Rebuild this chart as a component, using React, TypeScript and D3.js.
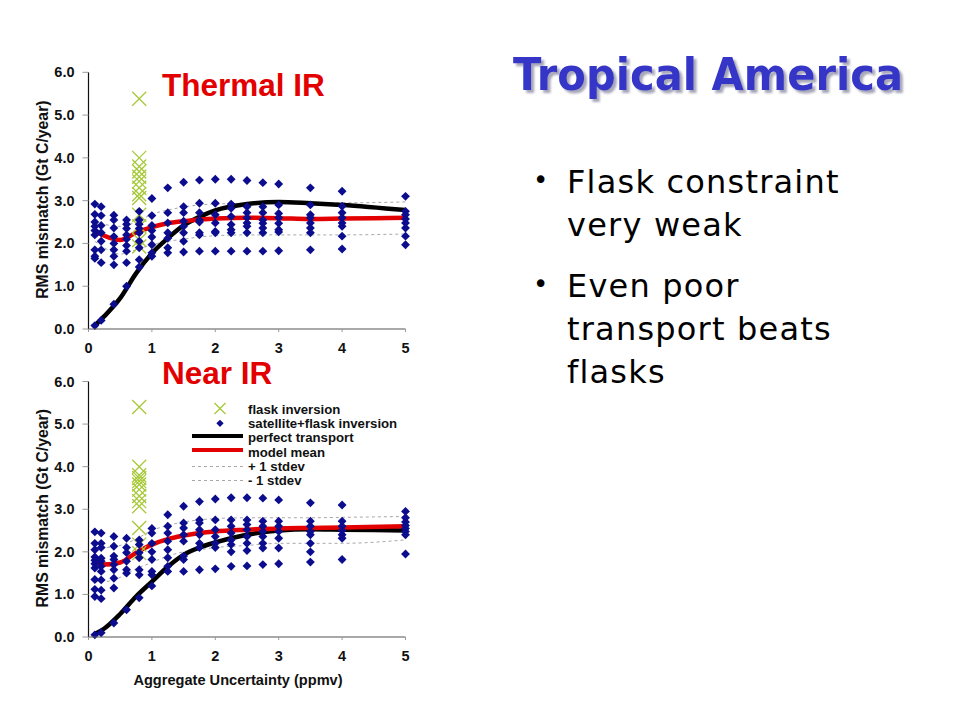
import * as d3 from 'd3'

// x positions (ppmv) of the scatter columns
const uncertainty = [0.1, 0.2, 0.4, 0.6, 0.8, 1.0, 1.25, 1.5, 1.75, 2.0, 2.25, 2.5, 2.75, 3.0, 3.5, 4.0, 5.0]
// x positions of the fitted curves
const curveX = [0.1, 0.25, 0.5, 0.75, 1.0, 1.25, 1.5, 1.75, 2.0, 2.5, 3.0, 3.5, 4.0, 5.0]
const flaskX = 0.8

const xTicks = [0, 1, 2, 3, 4, 5]
const yTicks = [0, 1, 2, 3, 4, 5, 6]

// Thermal IR
const thermalDots = [
  [2.92, 2.68, 2.5, 2.4, 2.3, 2.2, 1.85, 1.7, 1.65, 0.08],
  [2.86, 2.65, 2.42, 2.25, 2.05, 1.85, 1.55, 0.2],
  [2.66, 2.55, 2.36, 2.16, 2.0, 1.85, 1.7, 1.5, 0.58],
  [2.55, 2.45, 2.35, 2.2, 2.1, 1.95, 1.82, 1.55, 1.0],
  [2.75, 2.55, 2.45, 2.35, 2.25, 2.05, 1.9, 1.62, 1.45],
  [3.05, 2.65, 2.42, 2.3, 2.15, 1.97, 1.78, 1.7],
  [3.3, 2.72, 2.48, 2.25, 2.12, 1.9, 1.78],
  [3.43, 2.86, 2.72, 2.52, 2.4, 2.25, 2.05, 1.8],
  [3.48, 2.94, 2.72, 2.55, 2.5, 2.25, 2.2, 1.82],
  [3.5, 2.94, 2.67, 2.48, 2.28, 2.25, 1.82],
  [3.5, 2.92, 2.82, 2.63, 2.44, 2.32, 2.25, 1.82],
  [3.47, 2.86, 2.72, 2.6, 2.48, 2.4, 2.25, 1.82],
  [3.42, 2.86, 2.72, 2.55, 2.47, 2.36, 2.25, 1.82],
  [3.39, 2.9, 2.7, 2.6, 2.47, 2.32, 2.27, 1.83],
  [3.3, 2.9, 2.67, 2.6, 2.48, 2.36, 2.25, 1.85],
  [3.22, 2.87, 2.72, 2.6, 2.48, 2.4, 2.17, 1.87],
  [3.1, 2.75, 2.67, 2.57, 2.48, 2.36, 2.17, 1.97]
]
const thermalFlask = [5.38, 4.0, 3.8, 3.68, 3.56, 3.45, 3.3, 3.15, 3.06, 2.67, 2.4, 2.08, 1.93]
const thermalPerfect = [0.08, 0.3, 0.72, 1.3, 1.77, 2.12, 2.42, 2.62, 2.77, 2.92, 2.97, 2.94, 2.9, 2.78]
const thermalMean = [2.3, 2.18, 2.08, 2.25, 2.38, 2.47, 2.52, 2.56, 2.58, 2.6, 2.59, 2.57, 2.58, 2.6]
const thermalPlus = [2.55, 2.45, 2.4, 2.5, 2.68, 2.78, 2.85, 2.9, 2.92, 2.94, 2.95, 2.95, 2.95, 2.97]
const thermalMinus = [2.05, 1.9, 1.75, 1.85, 1.97, 2.05, 2.1, 2.15, 2.18, 2.2, 2.2, 2.2, 2.2, 2.22]

// Near IR
const nearDots = [
  [2.47, 2.2, 2.05, 1.88, 1.8, 1.72, 1.62, 1.35, 1.12, 0.95, 0.05],
  [2.44, 2.2, 2.1, 1.85, 1.78, 1.66, 1.54, 1.34, 1.1, 0.9, 0.1],
  [2.36, 2.13, 1.9, 1.82, 1.7, 1.58, 1.38, 1.15, 0.33],
  [2.32, 2.1, 1.98, 1.78, 1.58, 1.5, 0.64],
  [2.28, 2.17, 1.98, 1.86, 1.58, 1.46, 0.92],
  [2.55, 2.44, 2.2, 2.0, 1.82, 1.54, 1.46, 1.2],
  [2.87, 2.6, 2.44, 2.25, 2.05, 1.86, 1.66, 1.54],
  [3.07, 2.68, 2.56, 2.4, 2.25, 1.9, 1.82, 1.54],
  [3.18, 2.75, 2.68, 2.52, 2.4, 2.2, 2.1, 1.58],
  [3.24, 2.75, 2.52, 2.36, 2.2, 2.1, 1.6],
  [3.27, 2.75, 2.6, 2.44, 2.28, 2.17, 2.0, 1.66],
  [3.27, 2.75, 2.64, 2.52, 2.36, 2.2, 2.03, 1.67],
  [3.26, 2.72, 2.6, 2.48, 2.36, 2.2, 2.09, 1.7],
  [3.22, 2.72, 2.6, 2.48, 2.32, 2.09, 1.72],
  [3.15, 2.72, 2.6, 2.48, 2.4, 2.2, 2.0, 1.76],
  [3.1, 2.72, 2.6, 2.5, 2.4, 2.32, 1.82],
  [2.95, 2.8, 2.7, 2.62, 2.55, 2.48, 2.4, 1.95]
]
const nearFlask = [5.4, 4.0, 3.8, 3.73, 3.66, 3.58, 3.46, 3.31, 3.19, 3.07, 2.56, 2.17, 1.97]
const nearPerfect = [0.07, 0.2, 0.54, 0.95, 1.3, 1.65, 1.93, 2.1, 2.22, 2.4, 2.5, 2.53, 2.52, 2.5]
const nearMean = [1.75, 1.7, 1.75, 1.98, 2.17, 2.3, 2.38, 2.44, 2.48, 2.52, 2.55, 2.56, 2.57, 2.6]
const nearPlus = [2.1, 2.1, 2.15, 2.3, 2.5, 2.62, 2.7, 2.75, 2.78, 2.8, 2.8, 2.8, 2.81, 2.83]
const nearMinus = [1.3, 1.3, 1.4, 1.6, 1.75, 1.9, 2.0, 2.05, 2.1, 2.15, 2.2, 2.2, 2.2, 2.28]

const legendItems = ['flask inversion', 'satellite+flask inversion', 'perfect transport', 'model mean', '+ 1 stdev', '- 1 stdev']
const bullets = [
  ['Flask constraint', 'very weak'],
  ['Even poor', 'transport beats', 'flasks']
]

const FONT = 'Arial, "Liberation Sans", sans-serif'
const NAVY = '#0c0c8e'
const LIME = '#a6c837'
const RED = '#e30000'

const diamondType = (d3 as any).symbolDiamond2 ?? d3.symbolDiamond
const diamond = d3.symbol(diamondType, 50)()!
const cross = (r: number) => `M${-r},${-r}L${r},${r}M${-r},${r}L${r},${-r}`

interface PanelProps {
  top: number
  bottom: number
  title: string
  titleY: number
  dots: number[][]
  flask: number[]
  perfect: number[]
  mean: number[]
  plus: number[]
  minus: number[]
  legend?: boolean
  xLabel?: boolean
}

function Panel({ top, bottom, title, titleY, dots, flask, perfect, mean, plus, minus, legend, xLabel }: PanelProps) {
  const x = d3.scaleLinear().domain([0, 5]).range([88.5, 405.5])
  const y = d3.scaleLinear().domain([0, 6]).range([bottom, top])
  const line = d3.line<number>()
    .x((_, i) => x(curveX[i]))
    .y(d => y(d))
    .curve(d3.curveMonotoneX)

  return (
    <g>
      {/* stdev bands */}
      <path d={line(plus)!} fill="none" stroke="#a8a8a8" strokeWidth={1} strokeDasharray="3,3" />
      <path d={line(minus)!} fill="none" stroke="#a8a8a8" strokeWidth={1} strokeDasharray="3,3" />

      <path d={line(perfect)!} fill="none" stroke="#000" strokeWidth={4.5} />
      <path d={line(mean)!} fill="none" stroke={RED} strokeWidth={4.5} />

      {flask.map((v, i) => (
        <path key={'f' + i} d={cross(7)} transform={`translate(${x(flaskX)},${y(v)})`} stroke={LIME} strokeWidth={1.3} fill="none" />
      ))}

      {dots.map((col, ci) =>
        col.map((v, i) => (
          <path key={`d${ci}-${i}`} d={diamond} transform={`translate(${x(uncertainty[ci])},${y(v)})`} fill={NAVY} />
        ))
      )}

      {/* axes */}
      <line x1={x(0)} x2={x(0)} y1={y(6)} y2={y(0)} stroke="#111" strokeWidth={1.2} />
      <line x1={x(0)} x2={x(5)} y1={y(0)} y2={y(0)} stroke="#555" strokeWidth={1.2} />
      {yTicks.map(t => (
        <g key={'y' + t}>
          <line x1={x(0) - 6} x2={x(0)} y1={y(t)} y2={y(t)} stroke="#999" strokeWidth={1} />
          <text x={x(0) - 14} y={y(t) + 5} textAnchor="end" fontFamily={FONT} fontWeight="bold" fontSize={14.5} fill="#111">
            {t.toFixed(1)}
          </text>
        </g>
      ))}
      {xTicks.map(t => (
        <g key={'x' + t}>
          <line x1={x(t)} x2={x(t)} y1={y(0)} y2={y(0) + 3} stroke="#999" strokeWidth={1} />
          <text x={x(t)} y={y(0) + 24} textAnchor="middle" fontFamily={FONT} fontWeight="bold" fontSize={14.5} fill="#111">
            {t}
          </text>
        </g>
      ))}

      <text
        transform={`translate(48,${(top + bottom) / 2 - 1}) rotate(-90)`}
        textAnchor="middle"
        fontFamily={FONT}
        fontWeight="bold"
        fontSize={15.8}
        fill="#111"
      >
        RMS mismatch (Gt C/year)
      </text>

      <text x={162} y={titleY} fontFamily={FONT} fontWeight="bold" fontSize={31.5} fill={RED}>
        {title}
      </text>

      {xLabel && (
        <text x={238} y={685} textAnchor="middle" fontFamily={FONT} fontWeight="bold" fontSize={14.6} fill="#111">
          Aggregate Uncertainty (ppmv)
        </text>
      )}

      {legend && (
        <g fontFamily={FONT} fontWeight="bold" fontSize={13.2} fill="#111">
          <path d={cross(5.5)} transform="translate(220,408.5)" stroke={LIME} strokeWidth={1.3} fill="none" />
          <path d={d3.symbol(diamondType, 34)()!} transform="translate(220,423.3)" fill={NAVY} />
          <line x1={192} x2={243} y1={436} y2={436} stroke="#000" strokeWidth={4} />
          <line x1={192} x2={243} y1={450} y2={450} stroke={RED} strokeWidth={4} />
          <line x1={192} x2={245} y1={466.5} y2={466.5} stroke="#a8a8a8" strokeWidth={1} strokeDasharray="3,3" />
          <line x1={192} x2={245} y1={480.5} y2={480.5} stroke="#a8a8a8" strokeWidth={1} strokeDasharray="3,3" />
          {legendItems.map((s, i) => (
            <text key={s} x={248} y={414 + i * 14.2}>
              {s}
            </text>
          ))}
        </g>
      )}
    </g>
  )
}

export default function App() {
  const lineH = 43
  return (
    <svg
      width={960}
      height={720}
      viewBox="0 0 960 720"
      style={{ position: 'absolute', left: 0, top: 0, background: '#fff' }}
    >
      <defs>
        <filter id="titleShadow" x="-5%" y="-20%" width="115%" height="150%">
          <feDropShadow dx={3} dy={3} stdDeviation={1.2} floodColor="#9090a8" floodOpacity={0.8} />
        </filter>
      </defs>
      <rect width={960} height={720} fill="#fff" />

      <Panel
        top={72.3}
        bottom={329}
        title="Thermal IR"
        titleY={96}
        dots={thermalDots}
        flask={thermalFlask}
        perfect={thermalPerfect}
        mean={thermalMean}
        plus={thermalPlus}
        minus={thermalMinus}
      />
      <Panel
        top={381.5}
        bottom={637}
        title="Near IR"
        titleY={383.5}
        dots={nearDots}
        flask={nearFlask}
        perfect={nearPerfect}
        mean={nearMean}
        plus={nearPlus}
        minus={nearMinus}
        legend
        xLabel
      />

      {/* slide title with drop shadow */}
      <text
        x={513}
        y={90}
        textLength={390}
        lengthAdjust="spacingAndGlyphs"
        fontFamily='"Comic Sans MS", "DejaVu Sans", sans-serif'
        fontWeight="bold"
        fontSize={44}
        fill="#3535c8"
        filter="url(#titleShadow)"
      >
        Tropical America
      </text>

      <g fontFamily='"Comic Sans MS", "DejaVu Sans", sans-serif' fontSize={32} fill="#000">
        {bullets.map((lines, bi) => {
          const y0 = bi === 0 ? 193 : 297
          return (
            <g key={bi}>
              <text x={533} y={y0 - 4} fontSize={26}>•</text>
              {lines.map((l, li) => (
                <text key={l} x={567} y={y0 + li * lineH} letterSpacing={1.2}>
                  {l}
                </text>
              ))}
            </g>
          )
        })}
      </g>
    </svg>
  )
}
